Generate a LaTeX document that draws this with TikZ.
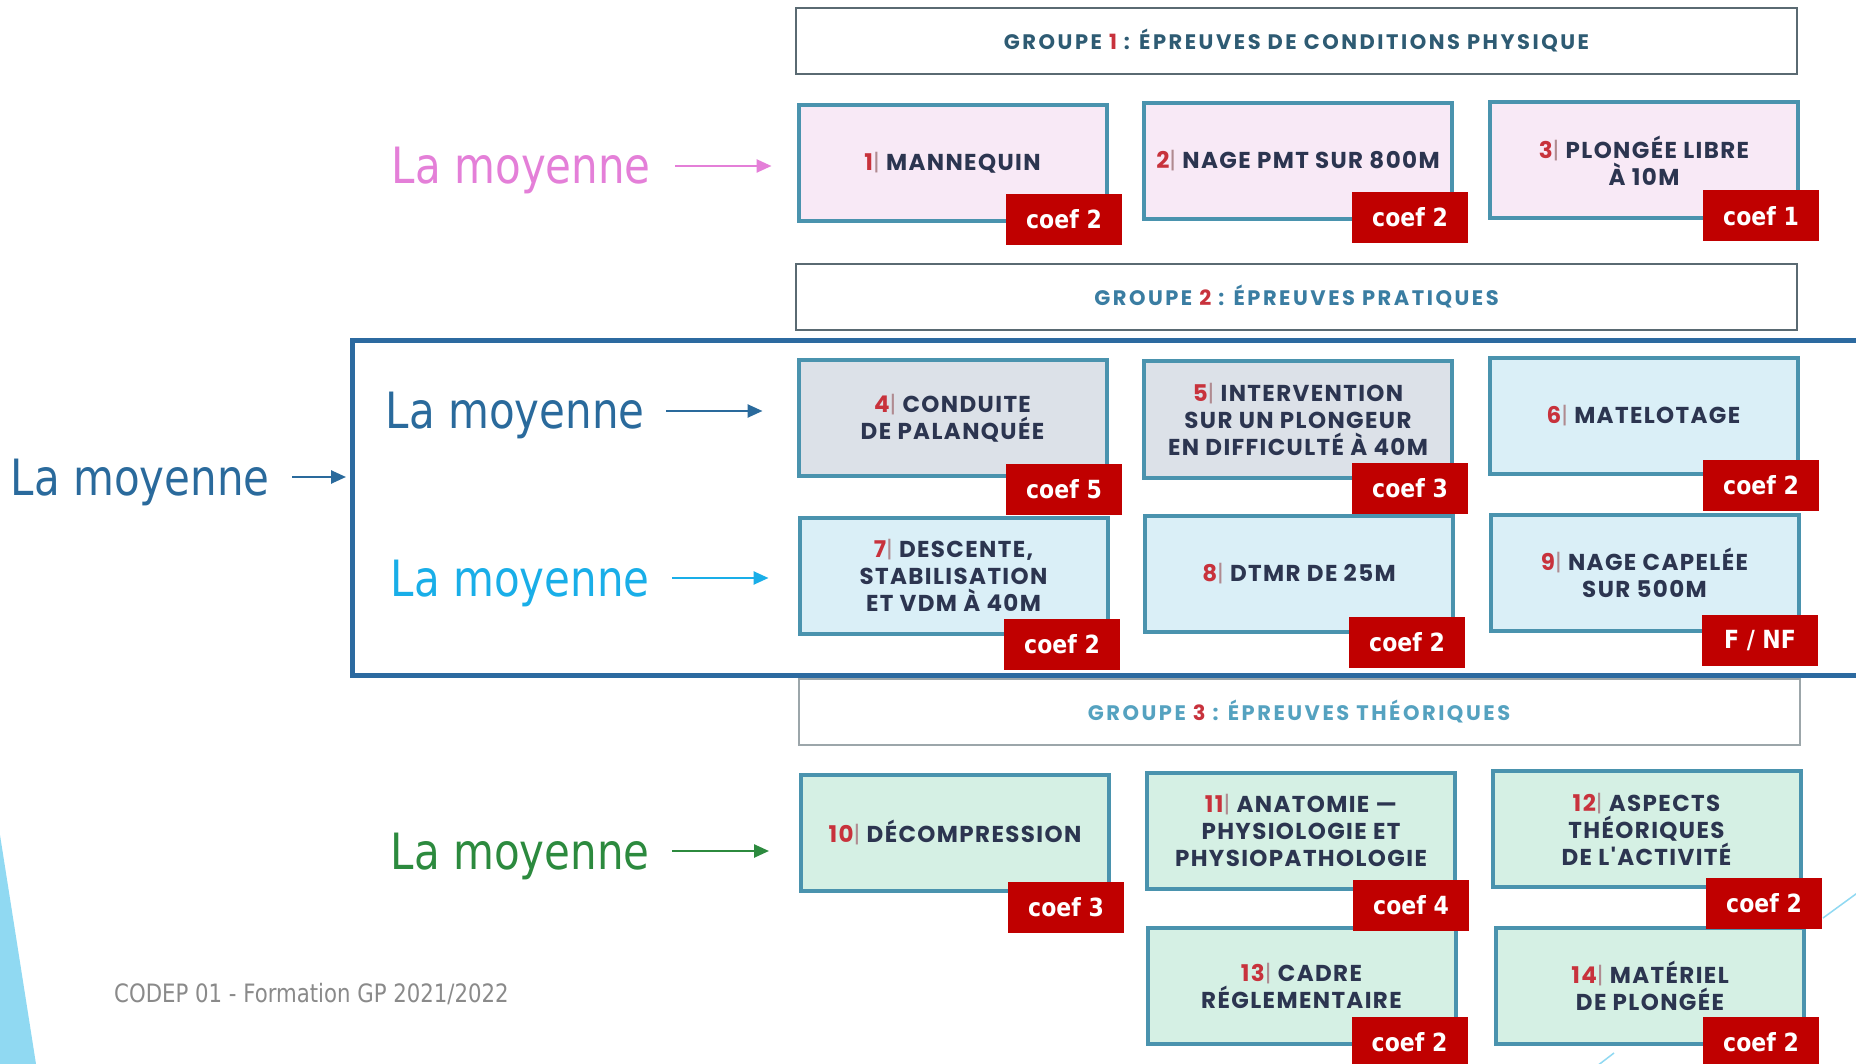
\documentclass[tikz,border=0pt]{standalone}
\usepackage{fontspec}
\usetikzlibrary{arrows.meta}
\newfontfamily\labf[FakeStretch=0.84]{DejaVu Sans}
\newfontfamily\boxf[LetterSpace=6]{Poppins}
\newfontfamily\headf[LetterSpace=12]{Poppins}
\newfontfamily\coeff[FakeStretch=0.88]{DejaVu Sans}
\definecolor{numred}{HTML}{C8323C}
\definecolor{bargray}{HTML}{B08A90}
\definecolor{boxtxt}{HTML}{2C3550}
\definecolor{bordc}{HTML}{4A93AE}
\definecolor{fpink}{HTML}{F8E9F6}
\definecolor{fgray}{HTML}{DCE1E8}
\definecolor{fcyan}{HTML}{DAEFF7}
\definecolor{fmint}{HTML}{D5F0E4}
\definecolor{badge}{HTML}{C00000}
\definecolor{hbord}{HTML}{5A6A72}
\definecolor{hone}{HTML}{2E5B73}
\definecolor{htwo}{HTML}{3A7DA2}
\definecolor{hthree}{HTML}{55A2C0}
\definecolor{cpink}{HTML}{E47FD8}
\definecolor{cdark}{HTML}{2A6A9C}
\definecolor{clight}{HTML}{19AEE8}
\definecolor{cgreen}{HTML}{2C8A3E}
\definecolor{frm}{HTML}{2C6AA0}
\definecolor{sky}{HTML}{90D9F2}
\definecolor{foot}{HTML}{8A8A8A}
\newcommand\nm[1]{\textcolor{numred}{#1}\textcolor{bargray}{\mdseries|}}
\tikzset{
  tbox/.style={draw=bordc, line width=4pt, minimum width=308pt, minimum height=116pt,
    inner sep=0pt, align=center, text=boxtxt,
    font=\boxf\bfseries\fontsize{23}{27}\selectfont},
  hbox/.style={draw=hbord, line width=2pt, fill=white, minimum width=1001pt, minimum height=66pt,
    inner sep=0pt, font=\headf\bfseries\fontsize{21}{24}\selectfont},
  badgebox/.style={fill=badge, minimum width=116pt, minimum height=51pt, inner sep=0pt,
    text=white, font=\coeff\bfseries\fontsize{25}{30}\selectfont},
  lbl/.style={inner sep=0pt, anchor=east, text height=36pt, text depth=0pt,
    font=\labf\fontsize{50}{60}\selectfont},
  arr/.style={line width=2.5pt, -{Triangle[length=15pt,width=13pt]}}
}
\begin{document}
\begin{tikzpicture}[x=1pt,y=-1pt]
\useasboundingbox (0,0) rectangle (1856,1064);
\fill[white] (0,0) rectangle (1856,1064);
% decorations
\fill[sky] (0,835) -- (36,1064) -- (0,1064) -- cycle;
\draw[sky, line width=1.5pt] (1823,918) -- (1860,891);
\draw[sky, line width=1.5pt] (1597,1066) -- (1614,1053);
% headers
\node[hbox, text=hone] (h1) at (1296.5,41) {GROUPE \textcolor{numred}{1} : ÉPREUVES DE CONDITIONS PHYSIQUE};
\node[hbox, text=htwo] (h2) at (1296.5,297) {GROUPE \textcolor{numred}{2} : ÉPREUVES PRATIQUES};
\node[hbox, text=hthree, draw=hbord!60] (h3) at (1299,712) {GROUPE \textcolor{numred}{3} : ÉPREUVES THÉORIQUES};
% group 1
\node[tbox, fill=fpink] (b1) at (952.5,163) {\nm{1} MANNEQUIN};
\node[tbox, fill=fpink] (b2) at (1298,161) {\nm{2} NAGE PMT SUR 800M};
\node[tbox, fill=fpink] (b3) at (1644,160.5) {\nm{3} PLONGÉE LIBRE\\À 10M};
% group 2
\node[tbox, fill=fgray] (b4) at (952.5,418) {\nm{4} CONDUITE\\DE PALANQUÉE};
\node[tbox, fill=fgray] (b5) at (1298,419.5) {\nm{5} INTERVENTION\\SUR UN PLONGEUR\\EN DIFFICULTÉ À 40M};
\node[tbox, fill=fcyan] (b6) at (1643.5,416) {\nm{6} MATELOTAGE};
\node[tbox, fill=fcyan] (b7) at (953.5,575.5) {\nm{7} DESCENTE,\\STABILISATION\\ET VDM À 40M};
\node[tbox, fill=fcyan] (b8) at (1299,573.5) {\nm{8} DTMR DE 25M};
\node[tbox, fill=fcyan] (b9) at (1644.5,572.5) {\nm{9} NAGE CAPELÉE\\SUR 500M};
% group 3
\node[tbox, fill=fmint] (b10) at (955,832.5) {\nm{10} DÉCOMPRESSION};
\node[tbox, fill=fmint] (b11) at (1301,830.5) {\nm{11} ANATOMIE —\\PHYSIOLOGIE ET\\PHYSIOPATHOLOGIE};
\node[tbox, fill=fmint] (b12) at (1646.5,829) {\nm{12} ASPECTS\\THÉORIQUES\\DE L'ACTIVITÉ};
\node[tbox, fill=fmint] (b13) at (1301.5,986) {\nm{13} CADRE\\RÉGLEMENTAIRE};
\node[tbox, fill=fmint] (b14) at (1650,986) {\nm{14} MATÉRIEL\\DE PLONGÉE};
% badges
\node[badgebox] (k1) at (1064,219.5) {coef 2};
\node[badgebox] (k2) at (1410,217.5) {coef 2};
\node[badgebox] (k3) at (1761,216) {coef 1};
\node[badgebox] (k4) at (1064,489.5) {coef 5};
\node[badgebox] (k5) at (1410,488.5) {coef 3};
\node[badgebox] (k6) at (1761,485.5) {coef 2};
\node[badgebox] (k7) at (1062,644.5) {coef 2};
\node[badgebox] (k8) at (1407,642.5) {coef 2};
\node[badgebox] (k9) at (1760,640.5) {F / NF};
\node[badgebox] (k10) at (1066,907.5) {coef 3};
\node[badgebox] (k11) at (1411,905) {coef 4};
\node[badgebox] (k12) at (1764,903.5) {coef 2};
\node[badgebox] (k13) at (1409.5,1042.5) {coef 2};
\node[badgebox] (k14) at (1761,1042.5) {coef 2};
% frame
\node[draw=frm, line width=5pt, minimum width=1600pt, minimum height=334pt, inner sep=0pt] (frame) at (1152.5,508) {};
% labels
\node[lbl, text=cpink] (lP) at (651,166) {La moyenne};
\node[lbl, text=cdark] (lD) at (645,411) {La moyenne};
\node[lbl, text=cdark] (lL) at (270,477) {La moyenne};
\node[lbl, text=clight] (lC) at (650,578) {La moyenne};
\node[lbl, text=cgreen] (lG) at (650,851) {La moyenne};
\draw[arr, cpink, shorten <=24pt, shorten >=25pt] (lP.east) -- (lP.east -| b1.west);
\draw[arr, cdark, shorten <=21pt, shorten >=34pt] (lD.east) -- (lD.east -| b4.west);
\draw[arr, cdark, shorten <=22pt, shorten >=4pt] (lL.east) -- (lL.east -| frame.west);
\draw[arr, clight, shorten <=22pt, shorten >=29pt] (lC.east) -- (lC.east -| b7.west);
\draw[arr, cgreen, shorten <=22pt, shorten >=30pt] (lG.east) -- (lG.east -| b10.west);
% footer
\node[anchor=base west, inner sep=0pt, text=foot, font=\labf\fontsize{25.3}{30}\selectfont] (ft) at (114,1002) {CODEP 01 - Formation GP 2021/2022};
\end{tikzpicture}
\end{document}
